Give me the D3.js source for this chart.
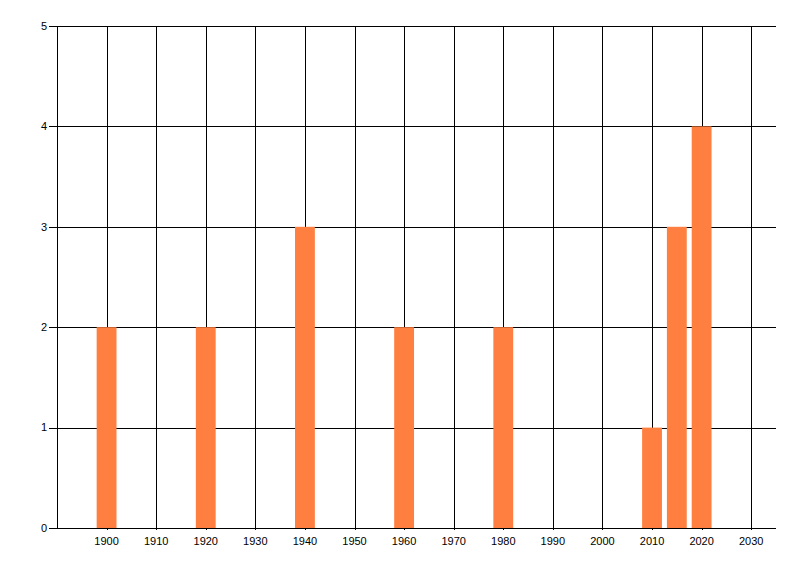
<!DOCTYPE html>
<html lang="en">
	<head>
		<meta charset="utf-8">
		<title>Bars by year</title>
		<script type="text/javascript" src="https://cdn.jsdelivr.net/npm/d3@7"></script>
		<style type="text/css">
			body { margin: 0; background: #fff; }
			text { font-family: "Liberation Sans", Arial, sans-serif; font-size: 11px; fill: #000; }
		</style>
	</head>
	<body>
		<script type="text/javascript">
	// data
	var years = [1900, 1920, 1940, 1960, 1980, 2010, 2015, 2020];
	var counts = [2, 2, 3, 2, 2, 1, 3, 4];
	var xTicks = [1900, 1910, 1920, 1930, 1940, 1950, 1960, 1970, 1980, 1990, 2000, 2010, 2020, 2030];
	var yTicks = [0, 1, 2, 3, 4, 5];

	var w = 800;
	var h = 576;
	// plot area edges (note: "top" is reserved on window, so use pTop etc.)
	var pLeft = 57, pRight = 776, pTop = 26, pBottom = 528;

	var svg = d3.select("body")
				.append("svg")
				.attr("width", w)
				.attr("height", h);

	var x = d3.scaleLinear().domain([1890, 2035]).range([pLeft, pRight]);
	var y = d3.scaleLinear().domain([0, 5]).range([pBottom, pTop]);

	// grid lines
	svg.selectAll("line.vgrid")
		.data(xTicks)
		.enter()
		.append("line")
		.attr("class", "vgrid")
		.attr("x1", function(d) { return Math.round(x(d)) + 0.5; })
		.attr("x2", function(d) { return Math.round(x(d)) + 0.5; })
		.attr("y1", pTop)
		.attr("y2", pBottom + 2)
		.style("stroke", "#000");

	svg.selectAll("line.hgrid")
		.data(yTicks)
		.enter()
		.append("line")
		.attr("class", "hgrid")
		.attr("x1", pLeft - 8)
		.attr("x2", pRight)
		.attr("y1", function(d) { return Math.round(y(d)) + 0.5; })
		.attr("y2", function(d) { return Math.round(y(d)) + 0.5; })
		.style("stroke", "#000");

	// bars (4 years wide)
	svg.selectAll("rect")
		.data(years)
		.enter()
		.append("rect")
		.attr("x", function(d) { return x(d - 2); })
		.attr("width", function(d) { return x(d + 2) - x(d - 2); })
		.attr("y", function(d, i) { return y(counts[i]); })
		.attr("height", function(d, i) { return y(0) - y(counts[i]); })
		.style("fill", "#ff7f40");

	// y axis line
	svg.append("line")
		.attr("x1", pLeft + 0.5).attr("x2", pLeft + 0.5)
		.attr("y1", pTop).attr("y2", pBottom + 1)
		.style("stroke", "#000");

	// labels
	svg.selectAll("text.ylab")
		.data(yTicks)
		.enter()
		.append("text")
		.attr("class", "ylab")
		.attr("x", pLeft - 10)
		.attr("y", function(d) { return y(d); })
		.attr("dy", "0.35em")
		.attr("text-anchor", "end")
		.text(function(d) { return d; });

	svg.selectAll("text.xlab")
		.data(xTicks)
		.enter()
		.append("text")
		.attr("class", "xlab")
		.attr("x", function(d) { return x(d); })
		.attr("y", pBottom + 13)
		.attr("dy", "0.35em")
		.attr("text-anchor", "middle")
		.text(function(d) { return d; });
		</script>
	</body>
</html>
